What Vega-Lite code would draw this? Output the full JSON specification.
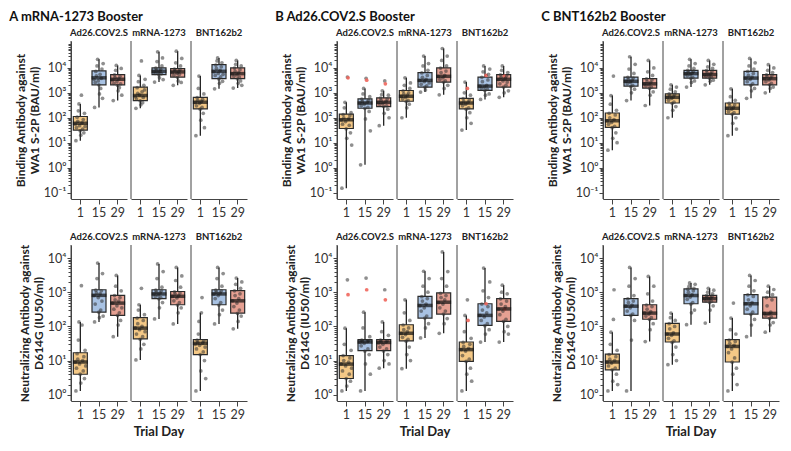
{
"$schema":"https://vega.github.io/schema/vega-lite/v6.json",
"padding":{"left":9,"top":10,"right":5,"bottom":5},
"spacing":28,
"datasets":{
"Ab":[
{"v":"Ad","d":1,"lo":12,"q1":32,"med":60,"q3":112,"hi":360},
{"v":"Ad","d":15,"lo":260,"q1":2100,"med":4000,"q3":7600,"hi":22000},
{"v":"Ad","d":29,"lo":490,"q1":2100,"med":3500,"q3":5400,"hi":12500},
{"v":"mR","d":1,"lo":240,"q1":490,"med":780,"q3":1700,"hi":5000},
{"v":"mR","d":15,"lo":2700,"q1":5400,"med":7300,"q3":10000,"hi":44000},
{"v":"mR","d":29,"lo":2000,"q1":4300,"med":6900,"q3":9400,"hi":47000},
{"v":"BN","d":1,"lo":19,"q1":225,"med":420,"q3":660,"hi":4700},
{"v":"BN","d":15,"lo":1450,"q1":3700,"med":7300,"q3":13500,"hi":25000},
{"v":"BN","d":29,"lo":1550,"q1":3700,"med":5900,"q3":10000,"hi":20000},
{"v":"Ad","d":1,"y":55},{"v":"Ad","d":1,"y":12},{"v":"Ad","d":1,"y":40},{"v":"Ad","d":1,"y":105},{"v":"Ad","d":1,"y":72},{"v":"Ad","d":1,"y":190},{"v":"Ad","d":1,"y":360},{"v":"Ad","d":1,"y":48},{"v":"Ad","d":1,"y":30},{"v":"Ad","d":1,"y":20},{"v":"Ad","d":1,"y":800},
{"v":"Ad","d":1,"y":62},{"v":"Ad","d":1,"y":35},{"v":"Ad","d":1,"y":85},{"v":"Ad","d":1,"y":25},{"v":"Ad","d":1,"y":150},{"v":"Ad","d":1,"y":45},
{"v":"Ad","d":15,"y":3500},{"v":"Ad","d":15,"y":260},{"v":"Ad","d":15,"y":2600},{"v":"Ad","d":15,"y":7200},{"v":"Ad","d":15,"y":4800},{"v":"Ad","d":15,"y":12000},{"v":"Ad","d":15,"y":22000},{"v":"Ad","d":15,"y":3000},{"v":"Ad","d":15,"y":2100},{"v":"Ad","d":15,"y":900},
{"v":"Ad","d":15,"y":5500},{"v":"Ad","d":15,"y":1500},{"v":"Ad","d":15,"y":3800},{"v":"Ad","d":15,"y":9000},{"v":"Ad","d":15,"y":600},{"v":"Ad","d":15,"y":15000},
{"v":"Ad","d":29,"y":3200},{"v":"Ad","d":29,"y":490},{"v":"Ad","d":29,"y":2400},{"v":"Ad","d":29,"y":5200},{"v":"Ad","d":29,"y":4100},{"v":"Ad","d":29,"y":8000},{"v":"Ad","d":29,"y":12500},{"v":"Ad","d":29,"y":2800},{"v":"Ad","d":29,"y":2000},{"v":"Ad","d":29,"y":1200},
{"v":"Ad","d":29,"y":3600},{"v":"Ad","d":29,"y":1600},{"v":"Ad","d":29,"y":4600},{"v":"Ad","d":29,"y":2300},{"v":"Ad","d":29,"y":9500},{"v":"Ad","d":29,"y":800},
{"v":"mR","d":1,"y":700},{"v":"mR","d":1,"y":240},{"v":"mR","d":1,"y":560},{"v":"mR","d":1,"y":1600},{"v":"mR","d":1,"y":950},{"v":"mR","d":1,"y":2800},{"v":"mR","d":1,"y":5000},{"v":"mR","d":1,"y":820},{"v":"mR","d":1,"y":480},{"v":"mR","d":1,"y":330},{"v":"mR","d":1,"y":19000},
{"v":"mR","d":1,"y":1100},{"v":"mR","d":1,"y":400},{"v":"mR","d":1,"y":650},{"v":"mR","d":1,"y":2000},{"v":"mR","d":1,"y":1300},{"v":"mR","d":1,"y":3500},
{"v":"mR","d":15,"y":7000},{"v":"mR","d":15,"y":2700},{"v":"mR","d":15,"y":6000},{"v":"mR","d":15,"y":9800},{"v":"mR","d":15,"y":8200},{"v":"mR","d":15,"y":18000},{"v":"mR","d":15,"y":44000},{"v":"mR","d":15,"y":6500},{"v":"mR","d":15,"y":5300},{"v":"mR","d":15,"y":4000},
{"v":"mR","d":15,"y":7500},{"v":"mR","d":15,"y":8800},{"v":"mR","d":15,"y":5800},{"v":"mR","d":15,"y":12000},{"v":"mR","d":15,"y":25000},{"v":"mR","d":15,"y":3400},
{"v":"mR","d":29,"y":6500},{"v":"mR","d":29,"y":2000},{"v":"mR","d":29,"y":5000},{"v":"mR","d":29,"y":9000},{"v":"mR","d":29,"y":7800},{"v":"mR","d":29,"y":16000},{"v":"mR","d":29,"y":47000},{"v":"mR","d":29,"y":6000},{"v":"mR","d":29,"y":4200},{"v":"mR","d":29,"y":3000},
{"v":"mR","d":29,"y":7200},{"v":"mR","d":29,"y":5500},{"v":"mR","d":29,"y":8500},{"v":"mR","d":29,"y":12000},{"v":"mR","d":29,"y":2600},{"v":"mR","d":29,"y":24000},
{"v":"BN","d":1,"y":400},{"v":"BN","d":1,"y":19},{"v":"BN","d":1,"y":300},{"v":"BN","d":1,"y":640},{"v":"BN","d":1,"y":500},{"v":"BN","d":1,"y":1500},{"v":"BN","d":1,"y":4700},{"v":"BN","d":1,"y":380},{"v":"BN","d":1,"y":220},{"v":"BN","d":1,"y":80},
{"v":"BN","d":1,"y":450},{"v":"BN","d":1,"y":260},{"v":"BN","d":1,"y":550},{"v":"BN","d":1,"y":150},{"v":"BN","d":1,"y":900},{"v":"BN","d":1,"y":40},
{"v":"BN","d":15,"y":7000},{"v":"BN","d":15,"y":1450},{"v":"BN","d":15,"y":5000},{"v":"BN","d":15,"y":13000},{"v":"BN","d":15,"y":9500},{"v":"BN","d":15,"y":19000},{"v":"BN","d":15,"y":25000},{"v":"BN","d":15,"y":6000},{"v":"BN","d":15,"y":3600},{"v":"BN","d":15,"y":2400},
{"v":"BN","d":15,"y":8000},{"v":"BN","d":15,"y":4400},{"v":"BN","d":15,"y":11000},{"v":"BN","d":15,"y":16000},{"v":"BN","d":15,"y":2900},{"v":"BN","d":15,"y":5500},
{"v":"BN","d":29,"y":5800},{"v":"BN","d":29,"y":1550},{"v":"BN","d":29,"y":4500},{"v":"BN","d":29,"y":9800},{"v":"BN","d":29,"y":7200},{"v":"BN","d":29,"y":14000},{"v":"BN","d":29,"y":20000},{"v":"BN","d":29,"y":5200},{"v":"BN","d":29,"y":3600},{"v":"BN","d":29,"y":2400},
{"v":"BN","d":29,"y":6500},{"v":"BN","d":29,"y":4300},{"v":"BN","d":29,"y":8500},{"v":"BN","d":29,"y":3000},{"v":"BN","d":29,"y":12000},{"v":"BN","d":29,"y":2000}
],
"An":[
{"v":"Ad","d":1,"lo":1.3,"q1":4,"med":9.1,"q3":17,"hi":135},
{"v":"Ad","d":15,"lo":135,"q1":260,"med":810,"q3":1180,"hi":7100},
{"v":"Ad","d":29,"lo":50,"q1":210,"med":480,"q3":810,"hi":3100},
{"v":"mR","d":1,"lo":10.5,"q1":43,"med":89,"q3":180,"hi":430},
{"v":"mR","d":15,"lo":165,"q1":650,"med":890,"q3":1180,"hi":6700},
{"v":"mR","d":29,"lo":118,"q1":430,"med":760,"q3":1050,"hi":5300},
{"v":"BN","d":1,"lo":1.3,"q1":15,"med":32,"q3":41,"hi":250},
{"v":"BN","d":15,"lo":118,"q1":430,"med":890,"q3":1180,"hi":5300},
{"v":"BN","d":29,"lo":85,"q1":245,"med":560,"q3":1120,"hi":2600},
{"v":"Ad","d":1,"y":9},{"v":"Ad","d":1,"y":1.3},{"v":"Ad","d":1,"y":6},{"v":"Ad","d":1,"y":16},{"v":"Ad","d":1,"y":11},{"v":"Ad","d":1,"y":40},{"v":"Ad","d":1,"y":135},{"v":"Ad","d":1,"y":8},{"v":"Ad","d":1,"y":4},{"v":"Ad","d":1,"y":2.2},{"v":"Ad","d":1,"y":1550},{"v":"Ad","d":1,"y":110},
{"v":"Ad","d":1,"y":10},{"v":"Ad","d":1,"y":5},{"v":"Ad","d":1,"y":13},{"v":"Ad","d":1,"y":3},{"v":"Ad","d":1,"y":20},{"v":"Ad","d":1,"y":7},
{"v":"Ad","d":15,"y":800},{"v":"Ad","d":15,"y":135},{"v":"Ad","d":15,"y":450},{"v":"Ad","d":15,"y":1150},{"v":"Ad","d":15,"y":950},{"v":"Ad","d":15,"y":2500},{"v":"Ad","d":15,"y":7100},{"v":"Ad","d":15,"y":700},{"v":"Ad","d":15,"y":260},{"v":"Ad","d":15,"y":180},
{"v":"Ad","d":15,"y":900},{"v":"Ad","d":15,"y":300},{"v":"Ad","d":15,"y":1100},{"v":"Ad","d":15,"y":550},{"v":"Ad","d":15,"y":3500},{"v":"Ad","d":15,"y":200},
{"v":"Ad","d":29,"y":480},{"v":"Ad","d":29,"y":50},{"v":"Ad","d":29,"y":320},{"v":"Ad","d":29,"y":800},{"v":"Ad","d":29,"y":600},{"v":"Ad","d":29,"y":1500},{"v":"Ad","d":29,"y":3100},{"v":"Ad","d":29,"y":400},{"v":"Ad","d":29,"y":210},{"v":"Ad","d":29,"y":110},
{"v":"Ad","d":29,"y":550},{"v":"Ad","d":29,"y":250},{"v":"Ad","d":29,"y":700},{"v":"Ad","d":29,"y":150},{"v":"Ad","d":29,"y":1100},{"v":"Ad","d":29,"y":350},
{"v":"mR","d":1,"y":90},{"v":"mR","d":1,"y":10.5},{"v":"mR","d":1,"y":60},{"v":"mR","d":1,"y":175},{"v":"mR","d":1,"y":120},{"v":"mR","d":1,"y":300},{"v":"mR","d":1,"y":430},{"v":"mR","d":1,"y":80},{"v":"mR","d":1,"y":42},{"v":"mR","d":1,"y":22},{"v":"mR","d":1,"y":1300},
{"v":"mR","d":1,"y":100},{"v":"mR","d":1,"y":50},{"v":"mR","d":1,"y":150},{"v":"mR","d":1,"y":30},{"v":"mR","d":1,"y":220},{"v":"mR","d":1,"y":70},
{"v":"mR","d":15,"y":880},{"v":"mR","d":15,"y":165},{"v":"mR","d":15,"y":750},{"v":"mR","d":15,"y":1150},{"v":"mR","d":15,"y":1000},{"v":"mR","d":15,"y":2500},{"v":"mR","d":15,"y":6700},{"v":"mR","d":15,"y":820},{"v":"mR","d":15,"y":640},{"v":"mR","d":15,"y":350},
{"v":"mR","d":15,"y":950},{"v":"mR","d":15,"y":700},{"v":"mR","d":15,"y":1100},{"v":"mR","d":15,"y":1400},{"v":"mR","d":15,"y":500},{"v":"mR","d":15,"y":4000},
{"v":"mR","d":29,"y":750},{"v":"mR","d":29,"y":118},{"v":"mR","d":29,"y":560},{"v":"mR","d":29,"y":1030},{"v":"mR","d":29,"y":900},{"v":"mR","d":29,"y":2200},{"v":"mR","d":29,"y":5300},{"v":"mR","d":29,"y":680},{"v":"mR","d":29,"y":420},{"v":"mR","d":29,"y":250},
{"v":"mR","d":29,"y":800},{"v":"mR","d":29,"y":500},{"v":"mR","d":29,"y":950},{"v":"mR","d":29,"y":1400},{"v":"mR","d":29,"y":350},{"v":"mR","d":29,"y":3000},
{"v":"BN","d":1,"y":30},{"v":"BN","d":1,"y":1.3},{"v":"BN","d":1,"y":22},{"v":"BN","d":1,"y":40},{"v":"BN","d":1,"y":34},{"v":"BN","d":1,"y":60},{"v":"BN","d":1,"y":140},{"v":"BN","d":1,"y":28},{"v":"BN","d":1,"y":15},{"v":"BN","d":1,"y":5},{"v":"BN","d":1,"y":250},{"v":"BN","d":1,"y":700},
{"v":"BN","d":1,"y":33},{"v":"BN","d":1,"y":18},{"v":"BN","d":1,"y":38},{"v":"BN","d":1,"y":10},{"v":"BN","d":1,"y":25},{"v":"BN","d":1,"y":3},
{"v":"BN","d":15,"y":880},{"v":"BN","d":15,"y":118},{"v":"BN","d":15,"y":650},{"v":"BN","d":15,"y":1150},{"v":"BN","d":15,"y":1000},{"v":"BN","d":15,"y":2500},{"v":"BN","d":15,"y":5300},{"v":"BN","d":15,"y":800},{"v":"BN","d":15,"y":420},{"v":"BN","d":15,"y":220},
{"v":"BN","d":15,"y":950},{"v":"BN","d":15,"y":500},{"v":"BN","d":15,"y":1100},{"v":"BN","d":15,"y":1500},{"v":"BN","d":15,"y":300},{"v":"BN","d":15,"y":3500},
{"v":"BN","d":29,"y":560},{"v":"BN","d":29,"y":85},{"v":"BN","d":29,"y":380},{"v":"BN","d":29,"y":1100},{"v":"BN","d":29,"y":800},{"v":"BN","d":29,"y":1700},{"v":"BN","d":29,"y":2600},{"v":"BN","d":29,"y":480},{"v":"BN","d":29,"y":240},{"v":"BN","d":29,"y":140},
{"v":"BN","d":29,"y":650},{"v":"BN","d":29,"y":300},{"v":"BN","d":29,"y":900},{"v":"BN","d":29,"y":1300},{"v":"BN","d":29,"y":200},{"v":"BN","d":29,"y":2000}
],
"Bb":[
{"v":"Ad","d":1,"lo":0.15,"q1":37,"med":83,"q3":141,"hi":415},
{"v":"Ad","d":15,"lo":1.3,"q1":240,"med":390,"q3":575,"hi":1500},
{"v":"Ad","d":29,"lo":48,"q1":280,"med":415,"q3":630,"hi":1200},
{"v":"mR","d":1,"lo":100,"q1":460,"med":730,"q3":1240,"hi":4000},
{"v":"mR","d":15,"lo":1070,"q1":1700,"med":3160,"q3":6500,"hi":30000},
{"v":"mR","d":29,"lo":830,"q1":2700,"med":4600,"q3":10000,"hi":60000},
{"v":"BN","d":1,"lo":32,"q1":225,"med":390,"q3":600,"hi":2700},
{"v":"BN","d":15,"lo":540,"q1":1250,"med":1860,"q3":4300,"hi":12000},
{"v":"BN","d":29,"lo":660,"q1":1700,"med":3500,"q3":5400,"hi":12000},
{"v":"Ad","d":1,"y":80},{"v":"Ad","d":1,"y":0.15},{"v":"Ad","d":1,"y":55},{"v":"Ad","d":1,"y":135},{"v":"Ad","d":1,"y":100},{"v":"Ad","d":1,"y":250},{"v":"Ad","d":1,"y":415},{"v":"Ad","d":1,"y":70},{"v":"Ad","d":1,"y":36},{"v":"Ad","d":1,"y":15},{"v":"Ad","d":1,"y":4300},{"v":"Ad","d":1,"y":4000,"h":1},
{"v":"Ad","d":1,"y":90},{"v":"Ad","d":1,"y":50},{"v":"Ad","d":1,"y":120},{"v":"Ad","d":1,"y":25},{"v":"Ad","d":1,"y":160},{"v":"Ad","d":1,"y":8},
{"v":"Ad","d":15,"y":390},{"v":"Ad","d":15,"y":1.3},{"v":"Ad","d":15,"y":300},{"v":"Ad","d":15,"y":560},{"v":"Ad","d":15,"y":450},{"v":"Ad","d":15,"y":900},{"v":"Ad","d":15,"y":1500},{"v":"Ad","d":15,"y":350},{"v":"Ad","d":15,"y":240},{"v":"Ad","d":15,"y":90},{"v":"Ad","d":15,"y":3800},{"v":"Ad","d":15,"y":3200,"h":1},
{"v":"Ad","d":15,"y":420},{"v":"Ad","d":15,"y":260},{"v":"Ad","d":15,"y":500},{"v":"Ad","d":15,"y":180},{"v":"Ad","d":15,"y":700},{"v":"Ad","d":15,"y":30},
{"v":"Ad","d":29,"y":410},{"v":"Ad","d":29,"y":48},{"v":"Ad","d":29,"y":330},{"v":"Ad","d":29,"y":620},{"v":"Ad","d":29,"y":500},{"v":"Ad","d":29,"y":850},{"v":"Ad","d":29,"y":1200},{"v":"Ad","d":29,"y":380},{"v":"Ad","d":29,"y":280},{"v":"Ad","d":29,"y":150},{"v":"Ad","d":29,"y":3000},{"v":"Ad","d":29,"y":2300,"h":1},
{"v":"Ad","d":29,"y":450},{"v":"Ad","d":29,"y":300},{"v":"Ad","d":29,"y":560},{"v":"Ad","d":29,"y":220},{"v":"Ad","d":29,"y":800},{"v":"Ad","d":29,"y":100},
{"v":"mR","d":1,"y":720},{"v":"mR","d":1,"y":100},{"v":"mR","d":1,"y":560},{"v":"mR","d":1,"y":1200},{"v":"mR","d":1,"y":900},{"v":"mR","d":1,"y":2000},{"v":"mR","d":1,"y":4000},{"v":"mR","d":1,"y":650},{"v":"mR","d":1,"y":450},{"v":"mR","d":1,"y":250},
{"v":"mR","d":1,"y":800},{"v":"mR","d":1,"y":500},{"v":"mR","d":1,"y":1000},{"v":"mR","d":1,"y":350},{"v":"mR","d":1,"y":1500},{"v":"mR","d":1,"y":2500},
{"v":"mR","d":15,"y":3100},{"v":"mR","d":15,"y":1070},{"v":"mR","d":15,"y":2200},{"v":"mR","d":15,"y":6300},{"v":"mR","d":15,"y":4200},{"v":"mR","d":15,"y":12000},{"v":"mR","d":15,"y":30000},{"v":"mR","d":15,"y":2800},{"v":"mR","d":15,"y":1700},{"v":"mR","d":15,"y":1300},
{"v":"mR","d":15,"y":3500},{"v":"mR","d":15,"y":1900},{"v":"mR","d":15,"y":5000},{"v":"mR","d":15,"y":8000},{"v":"mR","d":15,"y":15000},{"v":"mR","d":15,"y":2500},
{"v":"mR","d":29,"y":4500},{"v":"mR","d":29,"y":830},{"v":"mR","d":29,"y":3400},{"v":"mR","d":29,"y":9800},{"v":"mR","d":29,"y":6500},{"v":"mR","d":29,"y":20000},{"v":"mR","d":29,"y":60000},{"v":"mR","d":29,"y":4000},{"v":"mR","d":29,"y":2700},{"v":"mR","d":29,"y":1500},
{"v":"mR","d":29,"y":5000},{"v":"mR","d":29,"y":3000},{"v":"mR","d":29,"y":7500},{"v":"mR","d":29,"y":12000},{"v":"mR","d":29,"y":30000},{"v":"mR","d":29,"y":2000},
{"v":"BN","d":1,"y":380},{"v":"BN","d":1,"y":32},{"v":"BN","d":1,"y":300},{"v":"BN","d":1,"y":590},{"v":"BN","d":1,"y":450},{"v":"BN","d":1,"y":1000},{"v":"BN","d":1,"y":2700},{"v":"BN","d":1,"y":350},{"v":"BN","d":1,"y":220},{"v":"BN","d":1,"y":100},{"v":"BN","d":1,"y":1500,"h":1},
{"v":"BN","d":1,"y":420},{"v":"BN","d":1,"y":250},{"v":"BN","d":1,"y":520},{"v":"BN","d":1,"y":160},{"v":"BN","d":1,"y":800},{"v":"BN","d":1,"y":60},
{"v":"BN","d":15,"y":1850},{"v":"BN","d":15,"y":540},{"v":"BN","d":15,"y":1500},{"v":"BN","d":15,"y":4200},{"v":"BN","d":15,"y":2800},{"v":"BN","d":15,"y":7000},{"v":"BN","d":15,"y":12000},{"v":"BN","d":15,"y":1700},{"v":"BN","d":15,"y":1250},{"v":"BN","d":15,"y":800},{"v":"BN","d":15,"y":5000,"h":1},
{"v":"BN","d":15,"y":2000},{"v":"BN","d":15,"y":1400},{"v":"BN","d":15,"y":3300},{"v":"BN","d":15,"y":5500},{"v":"BN","d":15,"y":900},{"v":"BN","d":15,"y":9000},
{"v":"BN","d":29,"y":3400},{"v":"BN","d":29,"y":660},{"v":"BN","d":29,"y":2300},{"v":"BN","d":29,"y":5300},{"v":"BN","d":29,"y":4200},{"v":"BN","d":29,"y":8000},{"v":"BN","d":29,"y":12000},{"v":"BN","d":29,"y":3000},{"v":"BN","d":29,"y":1700},{"v":"BN","d":29,"y":1000},{"v":"BN","d":29,"y":4700,"h":1},
{"v":"BN","d":29,"y":3800},{"v":"BN","d":29,"y":2000},{"v":"BN","d":29,"y":4800},{"v":"BN","d":29,"y":2700},{"v":"BN","d":29,"y":6500},{"v":"BN","d":29,"y":1200}
],
"Bn":[
{"v":"Ad","d":1,"lo":1.3,"q1":3,"med":7.9,"q3":14,"hi":89},
{"v":"Ad","d":15,"lo":1.3,"q1":19.5,"med":35,"q3":41,"hi":260},
{"v":"Ad","d":29,"lo":6,"q1":19.5,"med":34,"q3":41,"hi":135},
{"v":"mR","d":1,"lo":5.8,"q1":38,"med":63,"q3":112,"hi":600},
{"v":"mR","d":15,"lo":46,"q1":175,"med":410,"q3":760,"hi":4100},
{"v":"mR","d":29,"lo":63,"q1":230,"med":510,"q3":950,"hi":15000},
{"v":"BN","d":1,"lo":1.3,"q1":9.5,"med":21,"q3":35,"hi":210},
{"v":"BN","d":15,"lo":35,"q1":107,"med":210,"q3":460,"hi":5100},
{"v":"BN","d":29,"lo":35,"q1":140,"med":325,"q3":650,"hi":1600},
{"v":"Ad","d":1,"y":8},{"v":"Ad","d":1,"y":1.3},{"v":"Ad","d":1,"y":5},{"v":"Ad","d":1,"y":14},{"v":"Ad","d":1,"y":10},{"v":"Ad","d":1,"y":30},{"v":"Ad","d":1,"y":89},{"v":"Ad","d":1,"y":7},{"v":"Ad","d":1,"y":3},{"v":"Ad","d":1,"y":1.8},{"v":"Ad","d":1,"y":2300},{"v":"Ad","d":1,"y":850,"h":1},
{"v":"Ad","d":1,"y":9},{"v":"Ad","d":1,"y":4},{"v":"Ad","d":1,"y":12},{"v":"Ad","d":1,"y":2.5},{"v":"Ad","d":1,"y":20},{"v":"Ad","d":1,"y":6},
{"v":"Ad","d":15,"y":34},{"v":"Ad","d":15,"y":1.3},{"v":"Ad","d":15,"y":27},{"v":"Ad","d":15,"y":40},{"v":"Ad","d":15,"y":37},{"v":"Ad","d":15,"y":90},{"v":"Ad","d":15,"y":260},{"v":"Ad","d":15,"y":32},{"v":"Ad","d":15,"y":19},{"v":"Ad","d":15,"y":8},{"v":"Ad","d":15,"y":2600},{"v":"Ad","d":15,"y":1180,"h":1},
{"v":"Ad","d":15,"y":36},{"v":"Ad","d":15,"y":22},{"v":"Ad","d":15,"y":38},{"v":"Ad","d":15,"y":15},{"v":"Ad","d":15,"y":50},{"v":"Ad","d":15,"y":4},
{"v":"Ad","d":29,"y":33},{"v":"Ad","d":29,"y":6},{"v":"Ad","d":29,"y":25},{"v":"Ad","d":29,"y":40},{"v":"Ad","d":29,"y":36},{"v":"Ad","d":29,"y":70},{"v":"Ad","d":29,"y":135},{"v":"Ad","d":29,"y":30},{"v":"Ad","d":29,"y":19},{"v":"Ad","d":29,"y":10},{"v":"Ad","d":29,"y":1180},{"v":"Ad","d":29,"y":600,"h":1},
{"v":"Ad","d":29,"y":35},{"v":"Ad","d":29,"y":22},{"v":"Ad","d":29,"y":38},{"v":"Ad","d":29,"y":15},{"v":"Ad","d":29,"y":55},{"v":"Ad","d":29,"y":8},
{"v":"mR","d":1,"y":62},{"v":"mR","d":1,"y":5.8},{"v":"mR","d":1,"y":48},{"v":"mR","d":1,"y":110},{"v":"mR","d":1,"y":80},{"v":"mR","d":1,"y":250},{"v":"mR","d":1,"y":600},{"v":"mR","d":1,"y":58},{"v":"mR","d":1,"y":37},{"v":"mR","d":1,"y":15},
{"v":"mR","d":1,"y":70},{"v":"mR","d":1,"y":42},{"v":"mR","d":1,"y":90},{"v":"mR","d":1,"y":25},{"v":"mR","d":1,"y":150},{"v":"mR","d":1,"y":10},
{"v":"mR","d":15,"y":400},{"v":"mR","d":15,"y":46},{"v":"mR","d":15,"y":280},{"v":"mR","d":15,"y":740},{"v":"mR","d":15,"y":550},{"v":"mR","d":15,"y":1500},{"v":"mR","d":15,"y":4100},{"v":"mR","d":15,"y":350},{"v":"mR","d":15,"y":175},{"v":"mR","d":15,"y":90},
{"v":"mR","d":15,"y":450},{"v":"mR","d":15,"y":200},{"v":"mR","d":15,"y":650},{"v":"mR","d":15,"y":1000},{"v":"mR","d":15,"y":120},{"v":"mR","d":15,"y":2500},
{"v":"mR","d":29,"y":500},{"v":"mR","d":29,"y":63},{"v":"mR","d":29,"y":350},{"v":"mR","d":29,"y":930},{"v":"mR","d":29,"y":700},{"v":"mR","d":29,"y":2500},{"v":"mR","d":29,"y":15000},{"v":"mR","d":29,"y":450},{"v":"mR","d":29,"y":230},{"v":"mR","d":29,"y":120},
{"v":"mR","d":29,"y":600},{"v":"mR","d":29,"y":280},{"v":"mR","d":29,"y":800},{"v":"mR","d":29,"y":1500},{"v":"mR","d":29,"y":170},{"v":"mR","d":29,"y":4000},
{"v":"BN","d":1,"y":21},{"v":"BN","d":1,"y":1.3},{"v":"BN","d":1,"y":14},{"v":"BN","d":1,"y":34},{"v":"BN","d":1,"y":26},{"v":"BN","d":1,"y":70},{"v":"BN","d":1,"y":210},{"v":"BN","d":1,"y":19},{"v":"BN","d":1,"y":9.5},{"v":"BN","d":1,"y":4},{"v":"BN","d":1,"y":600},{"v":"BN","d":1,"y":150,"h":1},
{"v":"BN","d":1,"y":23},{"v":"BN","d":1,"y":11},{"v":"BN","d":1,"y":30},{"v":"BN","d":1,"y":6},{"v":"BN","d":1,"y":45},{"v":"BN","d":1,"y":2.5},
{"v":"BN","d":15,"y":210},{"v":"BN","d":15,"y":35},{"v":"BN","d":15,"y":150},{"v":"BN","d":15,"y":450},{"v":"BN","d":15,"y":300},{"v":"BN","d":15,"y":1100},{"v":"BN","d":15,"y":5100},{"v":"BN","d":15,"y":190},{"v":"BN","d":15,"y":105},{"v":"BN","d":15,"y":60},{"v":"BN","d":15,"y":460,"h":1},
{"v":"BN","d":15,"y":250},{"v":"BN","d":15,"y":120},{"v":"BN","d":15,"y":380},{"v":"BN","d":15,"y":700},{"v":"BN","d":15,"y":80},{"v":"BN","d":15,"y":2000},
{"v":"BN","d":29,"y":320},{"v":"BN","d":29,"y":35},{"v":"BN","d":29,"y":220},{"v":"BN","d":29,"y":640},{"v":"BN","d":29,"y":450},{"v":"BN","d":29,"y":1000},{"v":"BN","d":29,"y":1600},{"v":"BN","d":29,"y":280},{"v":"BN","d":29,"y":140},{"v":"BN","d":29,"y":70},{"v":"BN","d":29,"y":325,"h":1},
{"v":"BN","d":29,"y":380},{"v":"BN","d":29,"y":160},{"v":"BN","d":29,"y":550},{"v":"BN","d":29,"y":900},{"v":"BN","d":29,"y":100},{"v":"BN","d":29,"y":60}
],
"Cb":[
{"v":"Ad","d":1,"lo":5,"q1":41,"med":76,"q3":155,"hi":780},
{"v":"Ad","d":15,"lo":490,"q1":1860,"med":2900,"q3":4300,"hi":28000},
{"v":"Ad","d":29,"lo":310,"q1":1550,"med":2300,"q3":3700,"hi":20000},
{"v":"mR","d":1,"lo":100,"q1":390,"med":660,"q3":910,"hi":2100},
{"v":"mR","d":15,"lo":1700,"q1":3900,"med":5900,"q3":8000,"hi":22000},
{"v":"mR","d":29,"lo":2100,"q1":3900,"med":5400,"q3":8000,"hi":20000},
{"v":"BN","d":1,"lo":19,"q1":141,"med":240,"q3":390,"hi":1450},
{"v":"BN","d":15,"lo":600,"q1":2100,"med":3900,"q3":7300,"hi":24000},
{"v":"BN","d":29,"lo":1000,"q1":2100,"med":3700,"q3":5400,"hi":13500},
{"v":"Ad","d":1,"y":75},{"v":"Ad","d":1,"y":5},{"v":"Ad","d":1,"y":55},{"v":"Ad","d":1,"y":150},{"v":"Ad","d":1,"y":100},{"v":"Ad","d":1,"y":350},{"v":"Ad","d":1,"y":780},{"v":"Ad","d":1,"y":65},{"v":"Ad","d":1,"y":40},{"v":"Ad","d":1,"y":15},{"v":"Ad","d":1,"y":4700},
{"v":"Ad","d":1,"y":85},{"v":"Ad","d":1,"y":45},{"v":"Ad","d":1,"y":130},{"v":"Ad","d":1,"y":25},{"v":"Ad","d":1,"y":200},{"v":"Ad","d":1,"y":10},
{"v":"Ad","d":15,"y":2900},{"v":"Ad","d":15,"y":490},{"v":"Ad","d":15,"y":2300},{"v":"Ad","d":15,"y":4200},{"v":"Ad","d":15,"y":3400},{"v":"Ad","d":15,"y":9000},{"v":"Ad","d":15,"y":28000},{"v":"Ad","d":15,"y":2600},{"v":"Ad","d":15,"y":1800},{"v":"Ad","d":15,"y":1000},
{"v":"Ad","d":15,"y":3200},{"v":"Ad","d":15,"y":2000},{"v":"Ad","d":15,"y":3900},{"v":"Ad","d":15,"y":6000},{"v":"Ad","d":15,"y":1400},{"v":"Ad","d":15,"y":14000},
{"v":"Ad","d":29,"y":2300},{"v":"Ad","d":29,"y":310},{"v":"Ad","d":29,"y":1900},{"v":"Ad","d":29,"y":3600},{"v":"Ad","d":29,"y":2800},{"v":"Ad","d":29,"y":7000},{"v":"Ad","d":29,"y":20000},{"v":"Ad","d":29,"y":2100},{"v":"Ad","d":29,"y":1500},{"v":"Ad","d":29,"y":800},
{"v":"Ad","d":29,"y":2600},{"v":"Ad","d":29,"y":1700},{"v":"Ad","d":29,"y":3300},{"v":"Ad","d":29,"y":5000},{"v":"Ad","d":29,"y":1100},{"v":"Ad","d":29,"y":10000},
{"v":"mR","d":1,"y":650},{"v":"mR","d":1,"y":100},{"v":"mR","d":1,"y":500},{"v":"mR","d":1,"y":900},{"v":"mR","d":1,"y":750},{"v":"mR","d":1,"y":1400},{"v":"mR","d":1,"y":2100},{"v":"mR","d":1,"y":600},{"v":"mR","d":1,"y":380},{"v":"mR","d":1,"y":200},
{"v":"mR","d":1,"y":700},{"v":"mR","d":1,"y":420},{"v":"mR","d":1,"y":850},{"v":"mR","d":1,"y":1100},{"v":"mR","d":1,"y":280},{"v":"mR","d":1,"y":1700},
{"v":"mR","d":15,"y":5800},{"v":"mR","d":15,"y":1700},{"v":"mR","d":15,"y":4800},{"v":"mR","d":15,"y":7900},{"v":"mR","d":15,"y":6500},{"v":"mR","d":15,"y":12000},{"v":"mR","d":15,"y":22000},{"v":"mR","d":15,"y":5300},{"v":"mR","d":15,"y":3800},{"v":"mR","d":15,"y":2600},
{"v":"mR","d":15,"y":6200},{"v":"mR","d":15,"y":4200},{"v":"mR","d":15,"y":7200},{"v":"mR","d":15,"y":9500},{"v":"mR","d":15,"y":3000},{"v":"mR","d":15,"y":15000},
{"v":"mR","d":29,"y":5400},{"v":"mR","d":29,"y":2100},{"v":"mR","d":29,"y":4500},{"v":"mR","d":29,"y":7800},{"v":"mR","d":29,"y":6300},{"v":"mR","d":29,"y":11000},{"v":"mR","d":29,"y":20000},{"v":"mR","d":29,"y":5000},{"v":"mR","d":29,"y":3800},{"v":"mR","d":29,"y":2900},
{"v":"mR","d":29,"y":5900},{"v":"mR","d":29,"y":4200},{"v":"mR","d":29,"y":7000},{"v":"mR","d":29,"y":9500},{"v":"mR","d":29,"y":3200},{"v":"mR","d":29,"y":14000},
{"v":"BN","d":1,"y":240},{"v":"BN","d":1,"y":19},{"v":"BN","d":1,"y":180},{"v":"BN","d":1,"y":380},{"v":"BN","d":1,"y":300},{"v":"BN","d":1,"y":700},{"v":"BN","d":1,"y":1450},{"v":"BN","d":1,"y":220},{"v":"BN","d":1,"y":140},{"v":"BN","d":1,"y":60},
{"v":"BN","d":1,"y":260},{"v":"BN","d":1,"y":160},{"v":"BN","d":1,"y":330},{"v":"BN","d":1,"y":500},{"v":"BN","d":1,"y":100},{"v":"BN","d":1,"y":35},
{"v":"BN","d":15,"y":3900},{"v":"BN","d":15,"y":600},{"v":"BN","d":15,"y":2800},{"v":"BN","d":15,"y":7200},{"v":"BN","d":15,"y":5000},{"v":"BN","d":15,"y":12000},{"v":"BN","d":15,"y":24000},{"v":"BN","d":15,"y":3500},{"v":"BN","d":15,"y":2000},{"v":"BN","d":15,"y":1200},
{"v":"BN","d":15,"y":4300},{"v":"BN","d":15,"y":2300},{"v":"BN","d":15,"y":6000},{"v":"BN","d":15,"y":9000},{"v":"BN","d":15,"y":1500},{"v":"BN","d":15,"y":16000},
{"v":"BN","d":29,"y":3700},{"v":"BN","d":29,"y":1000},{"v":"BN","d":29,"y":2800},{"v":"BN","d":29,"y":5300},{"v":"BN","d":29,"y":4500},{"v":"BN","d":29,"y":8000},{"v":"BN","d":29,"y":13500},{"v":"BN","d":29,"y":3300},{"v":"BN","d":29,"y":2100},{"v":"BN","d":29,"y":1500},
{"v":"BN","d":29,"y":4000},{"v":"BN","d":29,"y":2400},{"v":"BN","d":29,"y":4900},{"v":"BN","d":29,"y":6500},{"v":"BN","d":29,"y":1700},{"v":"BN","d":29,"y":10000}
],
"Cn":[
{"v":"Ad","d":1,"lo":1.3,"q1":5.4,"med":9.1,"q3":15.5,"hi":68},
{"v":"Ad","d":15,"lo":1.3,"q1":210,"med":390,"q3":650,"hi":5300},
{"v":"Ad","d":29,"lo":36,"q1":162,"med":245,"q3":430,"hi":2900},
{"v":"mR","d":1,"lo":7.6,"q1":35,"med":60,"q3":123,"hi":245},
{"v":"mR","d":15,"lo":112,"q1":460,"med":800,"q3":1250,"hi":1860},
{"v":"mR","d":29,"lo":125,"q1":510,"med":650,"q3":810,"hi":1300},
{"v":"BN","d":1,"lo":1.3,"q1":9.1,"med":26,"q3":41,"hi":175},
{"v":"BN","d":15,"lo":50,"q1":230,"med":460,"q3":850,"hi":3100},
{"v":"BN","d":29,"lo":68,"q1":175,"med":240,"q3":720,"hi":1500},
{"v":"Ad","d":1,"y":9},{"v":"Ad","d":1,"y":1.3},{"v":"Ad","d":1,"y":7},{"v":"Ad","d":1,"y":15},{"v":"Ad","d":1,"y":11},{"v":"Ad","d":1,"y":30},{"v":"Ad","d":1,"y":68},{"v":"Ad","d":1,"y":8.5},{"v":"Ad","d":1,"y":5.4},{"v":"Ad","d":1,"y":2.5},{"v":"Ad","d":1,"y":160},{"v":"Ad","d":1,"y":1180},
{"v":"Ad","d":1,"y":10},{"v":"Ad","d":1,"y":6},{"v":"Ad","d":1,"y":13},{"v":"Ad","d":1,"y":4},{"v":"Ad","d":1,"y":20},{"v":"Ad","d":1,"y":2},
{"v":"Ad","d":15,"y":390},{"v":"Ad","d":15,"y":1.3},{"v":"Ad","d":15,"y":280},{"v":"Ad","d":15,"y":640},{"v":"Ad","d":15,"y":500},{"v":"Ad","d":15,"y":1500},{"v":"Ad","d":15,"y":5300},{"v":"Ad","d":15,"y":350},{"v":"Ad","d":15,"y":210},{"v":"Ad","d":15,"y":40},
{"v":"Ad","d":15,"y":420},{"v":"Ad","d":15,"y":230},{"v":"Ad","d":15,"y":550},{"v":"Ad","d":15,"y":800},{"v":"Ad","d":15,"y":150},{"v":"Ad","d":15,"y":2500},
{"v":"Ad","d":29,"y":245},{"v":"Ad","d":29,"y":36},{"v":"Ad","d":29,"y":200},{"v":"Ad","d":29,"y":420},{"v":"Ad","d":29,"y":320},{"v":"Ad","d":29,"y":900},{"v":"Ad","d":29,"y":2900},{"v":"Ad","d":29,"y":230},{"v":"Ad","d":29,"y":160},{"v":"Ad","d":29,"y":80},
{"v":"Ad","d":29,"y":270},{"v":"Ad","d":29,"y":180},{"v":"Ad","d":29,"y":380},{"v":"Ad","d":29,"y":550},{"v":"Ad","d":29,"y":120},{"v":"Ad","d":29,"y":1500},
{"v":"mR","d":1,"y":60},{"v":"mR","d":1,"y":7.6},{"v":"mR","d":1,"y":45},{"v":"mR","d":1,"y":120},{"v":"mR","d":1,"y":85},{"v":"mR","d":1,"y":180},{"v":"mR","d":1,"y":245},{"v":"mR","d":1,"y":55},{"v":"mR","d":1,"y":34},{"v":"mR","d":1,"y":15},
{"v":"mR","d":1,"y":65},{"v":"mR","d":1,"y":38},{"v":"mR","d":1,"y":100},{"v":"mR","d":1,"y":150},{"v":"mR","d":1,"y":25},{"v":"mR","d":1,"y":10},
{"v":"mR","d":15,"y":800},{"v":"mR","d":15,"y":112},{"v":"mR","d":15,"y":620},{"v":"mR","d":15,"y":1230},{"v":"mR","d":15,"y":1000},{"v":"mR","d":15,"y":1500},{"v":"mR","d":15,"y":1860},{"v":"mR","d":15,"y":720},{"v":"mR","d":15,"y":450},{"v":"mR","d":15,"y":250},
{"v":"mR","d":15,"y":850},{"v":"mR","d":15,"y":500},{"v":"mR","d":15,"y":1100},{"v":"mR","d":15,"y":1300},{"v":"mR","d":15,"y":300},{"v":"mR","d":15,"y":1700},
{"v":"mR","d":29,"y":650},{"v":"mR","d":29,"y":125},{"v":"mR","d":29,"y":560},{"v":"mR","d":29,"y":800},{"v":"mR","d":29,"y":720},{"v":"mR","d":29,"y":1000},{"v":"mR","d":29,"y":1300},{"v":"mR","d":29,"y":620},{"v":"mR","d":29,"y":500},{"v":"mR","d":29,"y":300},
{"v":"mR","d":29,"y":680},{"v":"mR","d":29,"y":540},{"v":"mR","d":29,"y":760},{"v":"mR","d":29,"y":900},{"v":"mR","d":29,"y":400},{"v":"mR","d":29,"y":1150},
{"v":"BN","d":1,"y":26},{"v":"BN","d":1,"y":1.3},{"v":"BN","d":1,"y":17},{"v":"BN","d":1,"y":40},{"v":"BN","d":1,"y":32},{"v":"BN","d":1,"y":80},{"v":"BN","d":1,"y":175},{"v":"BN","d":1,"y":22},{"v":"BN","d":1,"y":9},{"v":"BN","d":1,"y":4},{"v":"BN","d":1,"y":480},
{"v":"BN","d":1,"y":28},{"v":"BN","d":1,"y":12},{"v":"BN","d":1,"y":36},{"v":"BN","d":1,"y":60},{"v":"BN","d":1,"y":6},{"v":"BN","d":1,"y":2},
{"v":"BN","d":15,"y":460},{"v":"BN","d":15,"y":50},{"v":"BN","d":15,"y":320},{"v":"BN","d":15,"y":840},{"v":"BN","d":15,"y":600},{"v":"BN","d":15,"y":1500},{"v":"BN","d":15,"y":3100},{"v":"BN","d":15,"y":400},{"v":"BN","d":15,"y":225},{"v":"BN","d":15,"y":110},
{"v":"BN","d":15,"y":500},{"v":"BN","d":15,"y":260},{"v":"BN","d":15,"y":750},{"v":"BN","d":15,"y":1100},{"v":"BN","d":15,"y":160},{"v":"BN","d":15,"y":2200},
{"v":"BN","d":29,"y":240},{"v":"BN","d":29,"y":68},{"v":"BN","d":29,"y":210},{"v":"BN","d":29,"y":700},{"v":"BN","d":29,"y":400},{"v":"BN","d":29,"y":1000},{"v":"BN","d":29,"y":1500},{"v":"BN","d":29,"y":230},{"v":"BN","d":29,"y":170},{"v":"BN","d":29,"y":110},
{"v":"BN","d":29,"y":260},{"v":"BN","d":29,"y":190},{"v":"BN","d":29,"y":600},{"v":"BN","d":29,"y":850},{"v":"BN","d":29,"y":130},{"v":"BN","d":29,"y":1200}
]
},
"hconcat":[
{"title":{"text":"A  mRNA-1273 Booster"},"spacing":12,"vconcat":[
{"data":{"name":"Ab"},"bounds":"flush","facet":{"column":{"field":"v","type":"nominal","sort":["Ad","mR","BN"],"title":null}},"spacing":4,
"spec":{"width":56,"height":158,"layer":[
{"transform":[{"filter":"isValid(datum.med)"}],"mark":{"type":"rule","color":"#222","strokeWidth":1.3},"encoding":{"x":{"field":"d","type":"ordinal","title":null,"scale":{"paddingInner":0,"paddingOuter":0}},"y":{"field":"lo","type":"quantitative","scale":{"type":"log","domain":[0.055,120000],"nice":false},"axis":{"title":["Binding Antibody against","WA1 S-2P (BAU/ml)"],"values":[0.1,0.2,0.3,0.4,0.5,0.6,0.7,0.8,0.9,1,2,3,4,5,6,7,8,9,10,20,30,40,50,60,70,80,90,100,200,300,400,500,600,700,800,900,1000,2000,3000,4000,5000,6000,7000,8000,9000,10000,20000,30000,40000,50000,60000,70000,80000,90000],"labelExpr":"datum.value==10000?'10⁴':datum.value==1000?'10³':datum.value==100?'10²':datum.value==10?'10¹':datum.value==1?'10⁰':datum.value==0.1?'10⁻¹':''","labelOverlap":false,"tickSize":{"condition":{"test":"indexof([0.1,1,10,100,1000,10000],datum.value)>=0","value":4},"value":3}}},"y2":{"field":"hi"}}},
{"transform":[{"filter":"isValid(datum.med)"}],"mark":{"type":"bar","size":14,"stroke":"#2b2b2b","strokeWidth":1.2},"encoding":{"x":{"field":"d","type":"ordinal"},"y":{"field":"q1","type":"quantitative"},"y2":{"field":"q3"},"color":{"field":"d","type":"ordinal","scale":{"domain":[1,15,29],"range":["#f4c886","#a8c2e3","#e5a092"]},"legend":null}}},
{"transform":[{"filter":"isValid(datum.y)"},{"window":[{"op":"row_number","as":"k"}],"groupby":["v","d"]}],"mark":{"type":"circle","size":14},"encoding":{"x":{"field":"d","type":"ordinal"},"xOffset":{"field":"k","type":"ordinal","scale":{"range":[4,15]}},"y":{"field":"y","type":"quantitative"},"color":{"condition":{"test":"datum.h==1","value":"#f0665c"},"value":"#333"},"opacity":{"condition":{"test":"datum.h==1","value":0.9},"value":0.55}}},
{"transform":[{"filter":"isValid(datum.med)"}],"mark":{"type":"tick","size":15,"thickness":3.5,"color":"#111"},"encoding":{"x":{"field":"d","type":"ordinal"},"y":{"field":"med","type":"quantitative"}}},
{"transform":[{"filter":"datum.d==1 && isValid(datum.med)"}],"mark":{"type":"rule","color":"#444","strokeWidth":1},"encoding":{"x":{"datum":1,"type":"ordinal","bandPosition":0},"y":{"datum":0.055},"y2":{"datum":120000}}}
]}},
{"data":{"name":"An"},"bounds":"flush","facet":{"column":{"field":"v","type":"nominal","sort":["Ad","mR","BN"],"title":"Trial Day","header":{"titleOrient":"bottom","labelOrient":"top"}}},"spacing":4,
"spec":{"width":56,"height":156,"layer":[
{"transform":[{"filter":"isValid(datum.med)"}],"mark":{"type":"rule","color":"#222","strokeWidth":1.3},"encoding":{"x":{"field":"d","type":"ordinal","title":null,"scale":{"paddingInner":0,"paddingOuter":0}},"y":{"field":"lo","type":"quantitative","scale":{"type":"log","domain":[0.66,24000],"nice":false},"axis":{"title":["Neutralizing Antibody against","D614G (IU50/ml)"],"values":[1,2,3,4,5,6,7,8,9,10,20,30,40,50,60,70,80,90,100,200,300,400,500,600,700,800,900,1000,2000,3000,4000,5000,6000,7000,8000,9000,10000],"labelExpr":"datum.value==10000?'10⁴':datum.value==1000?'10³':datum.value==100?'10²':datum.value==10?'10¹':datum.value==1?'10⁰':''","labelOverlap":false,"tickSize":{"condition":{"test":"indexof([1,10,100,1000,10000],datum.value)>=0","value":4},"value":3}}},"y2":{"field":"hi"}}},
{"transform":[{"filter":"isValid(datum.med)"}],"mark":{"type":"bar","size":14,"stroke":"#2b2b2b","strokeWidth":1.2},"encoding":{"x":{"field":"d","type":"ordinal"},"y":{"field":"q1","type":"quantitative"},"y2":{"field":"q3"},"color":{"field":"d","type":"ordinal","scale":{"domain":[1,15,29],"range":["#f4c886","#a8c2e3","#e5a092"]},"legend":null}}},
{"transform":[{"filter":"isValid(datum.y)"},{"window":[{"op":"row_number","as":"k"}],"groupby":["v","d"]}],"mark":{"type":"circle","size":14},"encoding":{"x":{"field":"d","type":"ordinal"},"xOffset":{"field":"k","type":"ordinal","scale":{"range":[4,15]}},"y":{"field":"y","type":"quantitative"},"color":{"condition":{"test":"datum.h==1","value":"#f0665c"},"value":"#333"},"opacity":{"condition":{"test":"datum.h==1","value":0.9},"value":0.55}}},
{"transform":[{"filter":"isValid(datum.med)"}],"mark":{"type":"tick","size":15,"thickness":3.5,"color":"#111"},"encoding":{"x":{"field":"d","type":"ordinal"},"y":{"field":"med","type":"quantitative"}}},
{"transform":[{"filter":"datum.d==1 && isValid(datum.med)"}],"mark":{"type":"rule","color":"#444","strokeWidth":1},"encoding":{"x":{"datum":1,"type":"ordinal","bandPosition":0},"y":{"datum":0.66},"y2":{"datum":24000}}}
]}}
]},
{"title":{"text":"B  Ad26.COV2.S Booster"},"spacing":12,"vconcat":[
{"data":{"name":"Bb"},"bounds":"flush","facet":{"column":{"field":"v","type":"nominal","sort":["Ad","mR","BN"],"title":null}},"spacing":4,
"spec":{"width":56,"height":158,"layer":[
{"transform":[{"filter":"isValid(datum.med)"}],"mark":{"type":"rule","color":"#222","strokeWidth":1.3},"encoding":{"x":{"field":"d","type":"ordinal","title":null,"scale":{"paddingInner":0,"paddingOuter":0}},"y":{"field":"lo","type":"quantitative","scale":{"type":"log","domain":[0.055,120000],"nice":false},"axis":{"title":["Binding Antibody against","WA1 S-2P (BAU/ml)"],"values":[0.1,0.2,0.3,0.4,0.5,0.6,0.7,0.8,0.9,1,2,3,4,5,6,7,8,9,10,20,30,40,50,60,70,80,90,100,200,300,400,500,600,700,800,900,1000,2000,3000,4000,5000,6000,7000,8000,9000,10000,20000,30000,40000,50000,60000,70000,80000,90000],"labelExpr":"datum.value==10000?'10⁴':datum.value==1000?'10³':datum.value==100?'10²':datum.value==10?'10¹':datum.value==1?'10⁰':datum.value==0.1?'10⁻¹':''","labelOverlap":false,"tickSize":{"condition":{"test":"indexof([0.1,1,10,100,1000,10000],datum.value)>=0","value":4},"value":3}}},"y2":{"field":"hi"}}},
{"transform":[{"filter":"isValid(datum.med)"}],"mark":{"type":"bar","size":14,"stroke":"#2b2b2b","strokeWidth":1.2},"encoding":{"x":{"field":"d","type":"ordinal"},"y":{"field":"q1","type":"quantitative"},"y2":{"field":"q3"},"color":{"field":"d","type":"ordinal","scale":{"domain":[1,15,29],"range":["#f4c886","#a8c2e3","#e5a092"]},"legend":null}}},
{"transform":[{"filter":"isValid(datum.y)"},{"window":[{"op":"row_number","as":"k"}],"groupby":["v","d"]}],"mark":{"type":"circle","size":14},"encoding":{"x":{"field":"d","type":"ordinal"},"xOffset":{"field":"k","type":"ordinal","scale":{"range":[4,15]}},"y":{"field":"y","type":"quantitative"},"color":{"condition":{"test":"datum.h==1","value":"#f0665c"},"value":"#333"},"opacity":{"condition":{"test":"datum.h==1","value":0.9},"value":0.55}}},
{"transform":[{"filter":"isValid(datum.med)"}],"mark":{"type":"tick","size":15,"thickness":3.5,"color":"#111"},"encoding":{"x":{"field":"d","type":"ordinal"},"y":{"field":"med","type":"quantitative"}}},
{"transform":[{"filter":"datum.d==1 && isValid(datum.med)"}],"mark":{"type":"rule","color":"#444","strokeWidth":1},"encoding":{"x":{"datum":1,"type":"ordinal","bandPosition":0},"y":{"datum":0.055},"y2":{"datum":120000}}}
]}},
{"data":{"name":"Bn"},"bounds":"flush","facet":{"column":{"field":"v","type":"nominal","sort":["Ad","mR","BN"],"title":"Trial Day","header":{"titleOrient":"bottom","labelOrient":"top"}}},"spacing":4,
"spec":{"width":56,"height":156,"layer":[
{"transform":[{"filter":"isValid(datum.med)"}],"mark":{"type":"rule","color":"#222","strokeWidth":1.3},"encoding":{"x":{"field":"d","type":"ordinal","title":null,"scale":{"paddingInner":0,"paddingOuter":0}},"y":{"field":"lo","type":"quantitative","scale":{"type":"log","domain":[0.66,24000],"nice":false},"axis":{"title":["Neutralizing Antibody against","D614G (IU50/ml)"],"values":[1,2,3,4,5,6,7,8,9,10,20,30,40,50,60,70,80,90,100,200,300,400,500,600,700,800,900,1000,2000,3000,4000,5000,6000,7000,8000,9000,10000],"labelExpr":"datum.value==10000?'10⁴':datum.value==1000?'10³':datum.value==100?'10²':datum.value==10?'10¹':datum.value==1?'10⁰':''","labelOverlap":false,"tickSize":{"condition":{"test":"indexof([1,10,100,1000,10000],datum.value)>=0","value":4},"value":3}}},"y2":{"field":"hi"}}},
{"transform":[{"filter":"isValid(datum.med)"}],"mark":{"type":"bar","size":14,"stroke":"#2b2b2b","strokeWidth":1.2},"encoding":{"x":{"field":"d","type":"ordinal"},"y":{"field":"q1","type":"quantitative"},"y2":{"field":"q3"},"color":{"field":"d","type":"ordinal","scale":{"domain":[1,15,29],"range":["#f4c886","#a8c2e3","#e5a092"]},"legend":null}}},
{"transform":[{"filter":"isValid(datum.y)"},{"window":[{"op":"row_number","as":"k"}],"groupby":["v","d"]}],"mark":{"type":"circle","size":14},"encoding":{"x":{"field":"d","type":"ordinal"},"xOffset":{"field":"k","type":"ordinal","scale":{"range":[4,15]}},"y":{"field":"y","type":"quantitative"},"color":{"condition":{"test":"datum.h==1","value":"#f0665c"},"value":"#333"},"opacity":{"condition":{"test":"datum.h==1","value":0.9},"value":0.55}}},
{"transform":[{"filter":"isValid(datum.med)"}],"mark":{"type":"tick","size":15,"thickness":3.5,"color":"#111"},"encoding":{"x":{"field":"d","type":"ordinal"},"y":{"field":"med","type":"quantitative"}}},
{"transform":[{"filter":"datum.d==1 && isValid(datum.med)"}],"mark":{"type":"rule","color":"#444","strokeWidth":1},"encoding":{"x":{"datum":1,"type":"ordinal","bandPosition":0},"y":{"datum":0.66},"y2":{"datum":24000}}}
]}}
]},
{"title":{"text":"C  BNT162b2 Booster"},"spacing":12,"vconcat":[
{"data":{"name":"Cb"},"bounds":"flush","facet":{"column":{"field":"v","type":"nominal","sort":["Ad","mR","BN"],"title":null}},"spacing":4,
"spec":{"width":56,"height":158,"layer":[
{"transform":[{"filter":"isValid(datum.med)"}],"mark":{"type":"rule","color":"#222","strokeWidth":1.3},"encoding":{"x":{"field":"d","type":"ordinal","title":null,"scale":{"paddingInner":0,"paddingOuter":0}},"y":{"field":"lo","type":"quantitative","scale":{"type":"log","domain":[0.055,120000],"nice":false},"axis":{"title":["Binding Antibody against","WA1 S-2P (BAU/ml)"],"values":[0.1,0.2,0.3,0.4,0.5,0.6,0.7,0.8,0.9,1,2,3,4,5,6,7,8,9,10,20,30,40,50,60,70,80,90,100,200,300,400,500,600,700,800,900,1000,2000,3000,4000,5000,6000,7000,8000,9000,10000,20000,30000,40000,50000,60000,70000,80000,90000],"labelExpr":"datum.value==10000?'10⁴':datum.value==1000?'10³':datum.value==100?'10²':datum.value==10?'10¹':datum.value==1?'10⁰':datum.value==0.1?'10⁻¹':''","labelOverlap":false,"tickSize":{"condition":{"test":"indexof([0.1,1,10,100,1000,10000],datum.value)>=0","value":4},"value":3}}},"y2":{"field":"hi"}}},
{"transform":[{"filter":"isValid(datum.med)"}],"mark":{"type":"bar","size":14,"stroke":"#2b2b2b","strokeWidth":1.2},"encoding":{"x":{"field":"d","type":"ordinal"},"y":{"field":"q1","type":"quantitative"},"y2":{"field":"q3"},"color":{"field":"d","type":"ordinal","scale":{"domain":[1,15,29],"range":["#f4c886","#a8c2e3","#e5a092"]},"legend":null}}},
{"transform":[{"filter":"isValid(datum.y)"},{"window":[{"op":"row_number","as":"k"}],"groupby":["v","d"]}],"mark":{"type":"circle","size":14},"encoding":{"x":{"field":"d","type":"ordinal"},"xOffset":{"field":"k","type":"ordinal","scale":{"range":[4,15]}},"y":{"field":"y","type":"quantitative"},"color":{"condition":{"test":"datum.h==1","value":"#f0665c"},"value":"#333"},"opacity":{"condition":{"test":"datum.h==1","value":0.9},"value":0.55}}},
{"transform":[{"filter":"isValid(datum.med)"}],"mark":{"type":"tick","size":15,"thickness":3.5,"color":"#111"},"encoding":{"x":{"field":"d","type":"ordinal"},"y":{"field":"med","type":"quantitative"}}},
{"transform":[{"filter":"datum.d==1 && isValid(datum.med)"}],"mark":{"type":"rule","color":"#444","strokeWidth":1},"encoding":{"x":{"datum":1,"type":"ordinal","bandPosition":0},"y":{"datum":0.055},"y2":{"datum":120000}}}
]}},
{"data":{"name":"Cn"},"bounds":"flush","facet":{"column":{"field":"v","type":"nominal","sort":["Ad","mR","BN"],"title":"Trial Day","header":{"titleOrient":"bottom","labelOrient":"top"}}},"spacing":4,
"spec":{"width":56,"height":156,"layer":[
{"transform":[{"filter":"isValid(datum.med)"}],"mark":{"type":"rule","color":"#222","strokeWidth":1.3},"encoding":{"x":{"field":"d","type":"ordinal","title":null,"scale":{"paddingInner":0,"paddingOuter":0}},"y":{"field":"lo","type":"quantitative","scale":{"type":"log","domain":[0.66,24000],"nice":false},"axis":{"title":["Neutralizing Antibody against","D614G (IU50/ml)"],"values":[1,2,3,4,5,6,7,8,9,10,20,30,40,50,60,70,80,90,100,200,300,400,500,600,700,800,900,1000,2000,3000,4000,5000,6000,7000,8000,9000,10000],"labelExpr":"datum.value==10000?'10⁴':datum.value==1000?'10³':datum.value==100?'10²':datum.value==10?'10¹':datum.value==1?'10⁰':''","labelOverlap":false,"tickSize":{"condition":{"test":"indexof([1,10,100,1000,10000],datum.value)>=0","value":4},"value":3}}},"y2":{"field":"hi"}}},
{"transform":[{"filter":"isValid(datum.med)"}],"mark":{"type":"bar","size":14,"stroke":"#2b2b2b","strokeWidth":1.2},"encoding":{"x":{"field":"d","type":"ordinal"},"y":{"field":"q1","type":"quantitative"},"y2":{"field":"q3"},"color":{"field":"d","type":"ordinal","scale":{"domain":[1,15,29],"range":["#f4c886","#a8c2e3","#e5a092"]},"legend":null}}},
{"transform":[{"filter":"isValid(datum.y)"},{"window":[{"op":"row_number","as":"k"}],"groupby":["v","d"]}],"mark":{"type":"circle","size":14},"encoding":{"x":{"field":"d","type":"ordinal"},"xOffset":{"field":"k","type":"ordinal","scale":{"range":[4,15]}},"y":{"field":"y","type":"quantitative"},"color":{"condition":{"test":"datum.h==1","value":"#f0665c"},"value":"#333"},"opacity":{"condition":{"test":"datum.h==1","value":0.9},"value":0.55}}},
{"transform":[{"filter":"isValid(datum.med)"}],"mark":{"type":"tick","size":15,"thickness":3.5,"color":"#111"},"encoding":{"x":{"field":"d","type":"ordinal"},"y":{"field":"med","type":"quantitative"}}},
{"transform":[{"filter":"datum.d==1 && isValid(datum.med)"}],"mark":{"type":"rule","color":"#444","strokeWidth":1},"encoding":{"x":{"datum":1,"type":"ordinal","bandPosition":0},"y":{"datum":0.66},"y2":{"datum":24000}}}
]}}
]}
],
"config":{
"font":"Lato",
"view":{"stroke":null},
"axis":{"grid":false,"domainColor":"#444","tickColor":"#444","labelColor":"#333","labelFontSize":12.5,"titleFontSize":12,"titleFontWeight":"bold","titleColor":"#222","labelFlush":false},
"axisX":{"labelAngle":0,"tickSize":5,"labelPadding":2},
"axisY":{"titlePadding":2,"labelPadding":1,"labelFontSize":12.5},
"header":{"labelFontSize":9.5,"labelFontWeight":"bold","labelColor":"#222","labelPadding":4,"labelExpr":"datum.value=='Ad'?'Ad26.COV2.S':datum.value=='mR'?'mRNA-1273':'BNT162b2'","titleFontSize":13,"titleFontWeight":"bold","titleColor":"#222","titlePadding":-5},
"title":{"fontSize":13,"fontWeight":"bold","anchor":"start","color":"#111","frame":"bounds","dx":-5}
}
}
